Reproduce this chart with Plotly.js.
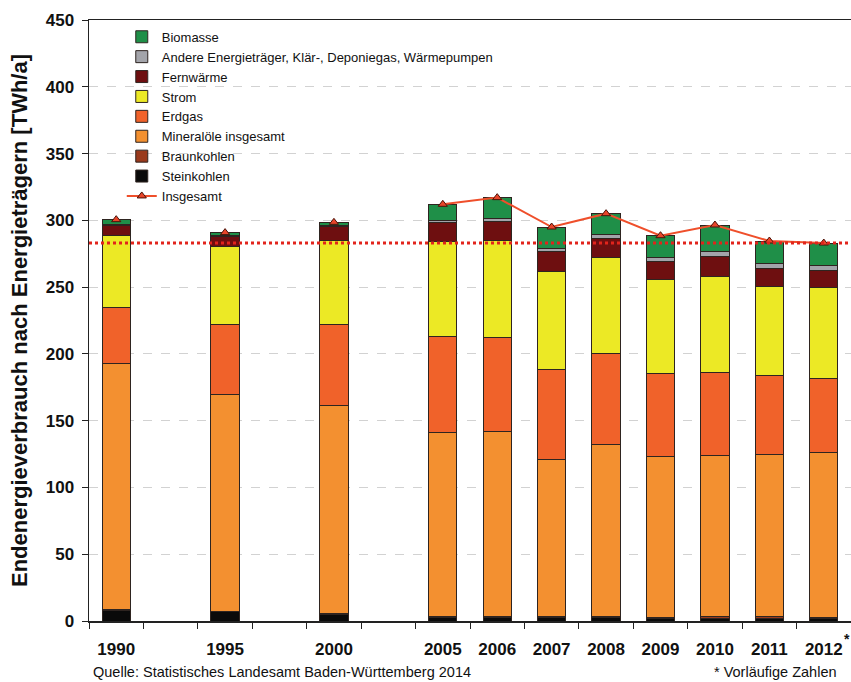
<!DOCTYPE html>
<html>
<head>
<meta charset="utf-8">
<script src="https://cdn.plot.ly/plotly-3.0.1.min.js"></script>
<style>
  html, body { margin: 0; padding: 0; background: #fff; }
  #chart { width: 851px; height: 682px; }
</style>
</head>
<body>
<div id="chart"></div>
<script>
// Jahre mit Balken
const jahre = ['1990', '1995', '2000', '2005', '2006', '2007', '2008', '2009', '2010', '2011', '2012'];
// Plätze der Achse, mit leeren Lücken zwischen 1990, 1995, 2000 und 2005
const achse = ['1990', '', '1995', '', '2000', '', '2005', '2006', '2007', '2008', '2009', '2010', '2011', '2012'];

// Endenergieverbrauch in TWh/a
const steinkohlen = [8, 7, 5, 2.5, 2.5, 2.5, 2.5, 2, 2.2, 2.2, 1.8];
const braunkohlen = [0.3, 0.3, 0.3, 1, 1, 1, 1, 0.8, 1, 1, 1];
const mineraloele = [184.7, 162, 156, 137.5, 138.5, 117.5, 129, 120.7, 121, 121.8, 123.2];
const erdgas = [41.5, 53, 60.5, 72, 70, 67.5, 68, 62, 62, 58.5, 55.5];
const strom = [54, 58, 63, 71.5, 73, 73, 72, 70, 72, 67, 68];
const fernwaerme = [7.5, 7.5, 10.5, 14, 14.5, 15, 14, 14, 15, 13.5, 13];
const andere = [1, 0.5, 0.5, 1.5, 2, 2.5, 3, 3, 3.3, 3.5, 3.5];
const biomasse = [3.5, 2.5, 2.7, 12, 15.5, 16, 15.5, 16, 20, 17, 17];

// Reihenfolge im Stapel (unten nach oben)
const reihen = [
    { name: 'Steinkohlen', werte: steinkohlen, farbe: '#0a0a0a' },
    { name: 'Braunkohlen', werte: braunkohlen, farbe: '#9a3a1c' },
    { name: 'Mineralöle insgesamt', werte: mineraloele, farbe: '#f39030' },
    { name: 'Erdgas', werte: erdgas, farbe: '#f0622a' },
    { name: 'Strom', werte: strom, farbe: '#ece925' },
    { name: 'Fernwärme', werte: fernwaerme, farbe: '#6e0f10' },
    { name: 'Andere Energieträger, Klär-, Deponiegas, Wärmepumpen', werte: andere, farbe: '#a3a4aa' },
    { name: 'Biomasse', werte: biomasse, farbe: '#1f8f48' }
];

// Platz jedes Jahres auf der Achse
const platz = jahre.map(j => achse.indexOf(j));
// Summe je Jahr
const insgesamt = jahre.map((j, i) => reihen.reduce((s, r) => s + r.werte[i], 0));

const data = [];

// Linie Insgesamt: nur aufeinanderfolgende Jahre werden verbunden
data.push({
    type: 'scatter',
    mode: 'lines+markers',
    name: 'Insgesamt',
    x: achse.map((a, k) => k),
    y: achse.map(a => { const i = jahre.indexOf(a); return i >= 0 ? insgesamt[i] : null; }),
    connectgaps: false,
    line: { color: '#ef4f2b', width: 2 },
    marker: { symbol: 'triangle-up', size: 8, color: '#e8452a', line: { color: '#4a1208', width: 1 } },
    hoverinfo: 'none'
});

reihen.forEach(r => {
    data.push({
        type: 'bar',
        name: r.name,
        x: platz,
        y: r.werte,
        marker: { color: r.farbe, line: { color: '#2e2420', width: 1 } },
        hoverinfo: 'none'
    });
});

const schrift = 'Liberation Sans, Arial, sans-serif';

const layout = {
    width: 851,
    height: 682,
    margin: { l: 89, r: 0, t: 20, b: 61 },
    paper_bgcolor: 'white',
    plot_bgcolor: 'white',
    barmode: 'stack',
    bargap: 0.48,
    showlegend: true,
    legend: {
        x: 0.043, y: 0.997, xanchor: 'left', yanchor: 'top',
        traceorder: 'reversed',
        bgcolor: 'rgba(255,255,255,0)',
        font: { family: schrift, size: 13, color: '#111' },
        itemwidth: 30,
        tracegroupgap: 0
    },
    xaxis: {
        type: 'linear',
        range: [-0.5, achse.length - 0.5],
        tickmode: 'array',
        tickvals: platz,
        ticktext: jahre,
        ticks: '',
        ticklabelstandoff: 12,
        minor: { ticks: 'outside', tick0: 0.5, dtick: 1, ticklen: 6, tickcolor: '#222', showgrid: false },
        showline: true,
        linecolor: '#222',
        linewidth: 1.5,
        mirror: true,
        showgrid: false,
        zeroline: false,
        tickfont: { family: schrift, size: 17, color: '#111', weight: 'bold' },
        fixedrange: true
    },
    yaxis: {
        range: [0, 450],
        dtick: 50,
        ticks: 'outside',
        ticklen: 6,
        tickcolor: '#222',
        ticklabelstandoff: 4,
        showline: true,
        linecolor: '#222',
        linewidth: 1.5,
        mirror: true,
        showgrid: true,
        gridcolor: '#d2d2d2',
        griddash: 'dash',
        gridwidth: 1,
        zeroline: false,
        tickfont: { family: schrift, size: 17, color: '#111', weight: 'bold' },
        title: {
            text: 'Endenergieverbrauch nach Energieträgern [TWh/a]',
            font: { family: schrift, size: 22, color: '#111', weight: 'bold' },
            standoff: 12
        },
        fixedrange: true
    },
    shapes: [{
        // gepunktete Linie auf Höhe des letzten Gesamtwerts
        type: 'line', xref: 'paper', yref: 'y',
        x0: 0, x1: 1,
        y0: insgesamt[insgesamt.length - 1], y1: insgesamt[insgesamt.length - 1],
        line: { color: '#e2241c', width: 3, dash: 'dot' },
        layer: 'above'
    }],
    annotations: [
        {
            text: 'Quelle: Statistisches Landesamt Baden-Württemberg 2014',
            xref: 'paper', yref: 'paper', x: 0.003, y: 0, yshift: -61,
            xanchor: 'left', yanchor: 'bottom', showarrow: false,
            font: { family: schrift, size: 14.5, color: '#111' }
        },
        {
            text: '* Vorläufige Zahlen',
            xref: 'paper', yref: 'paper', x: 0.984, y: 0, yshift: -61,
            xanchor: 'right', yanchor: 'bottom', showarrow: false,
            font: { family: schrift, size: 14.5, color: '#111' }
        },
        {
            text: '*',
            xref: 'x', yref: 'paper', x: platz[platz.length - 1], y: 0, xshift: 23, yshift: -18,
            xanchor: 'center', yanchor: 'middle', showarrow: false,
            font: { family: schrift, size: 14, color: '#111', weight: 'bold' }
        }
    ]
};

Plotly.newPlot('chart', data, layout, { displayModeBar: false, staticPlot: true });
</script>
</body>
</html>
